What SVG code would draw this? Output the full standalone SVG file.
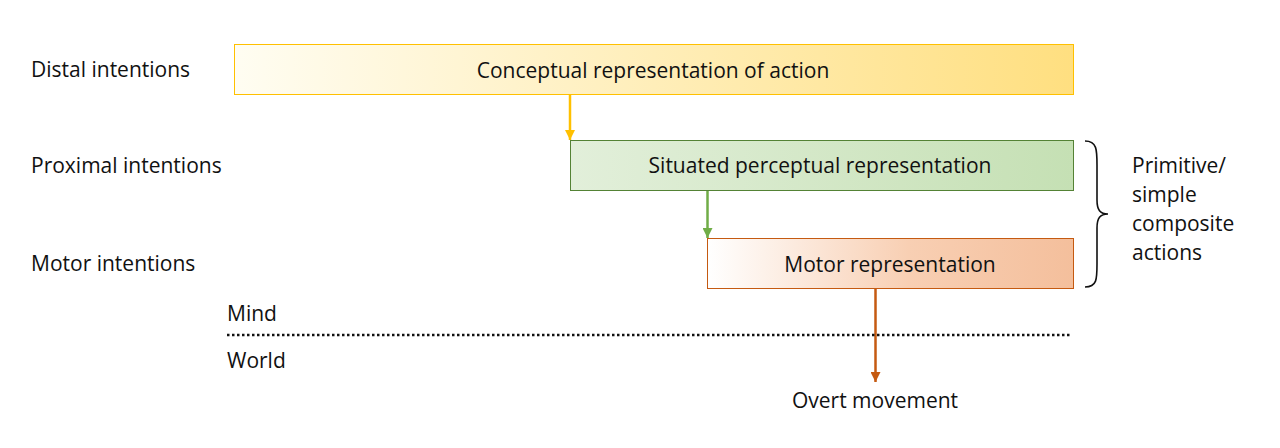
<svg xmlns="http://www.w3.org/2000/svg" width="1280" height="448" viewBox="0 0 1280 448">
<style>
text{font-family:"Open Sans","Liberation Sans",sans-serif;font-size:21px;fill:#111}
.c{text-anchor:middle}
</style>
<defs>
<linearGradient id="gY" x1="0" x2="1" y1="0" y2="0"><stop offset="0" stop-color="#FFFDF2"/><stop offset="1" stop-color="#FFDF80"/></linearGradient>
<linearGradient id="gG" x1="0" x2="1" y1="0" y2="0"><stop offset="0" stop-color="#E2EFDA"/><stop offset="1" stop-color="#C5E0B4"/></linearGradient>
<linearGradient id="gO" x1="0" x2="1" y1="0" y2="0"><stop offset="0" stop-color="#FFFFFF"/><stop offset="0.55" stop-color="#F8CFB3"/><stop offset="1" stop-color="#F4BF9C"/></linearGradient>
<marker id="aY" viewBox="0 0 10 10" refX="10" refY="5" markerWidth="4" markerHeight="4" orient="auto" markerUnits="strokeWidth"><path d="M0,0L10,5L0,10z" fill="#FFC000"/></marker>
<marker id="aG" viewBox="0 0 10 10" refX="10" refY="5" markerWidth="4" markerHeight="4" orient="auto" markerUnits="strokeWidth"><path d="M0,0L10,5L0,10z" fill="#70AD47"/></marker>
<marker id="aO" viewBox="0 0 10 10" refX="10" refY="5" markerWidth="4" markerHeight="4" orient="auto" markerUnits="strokeWidth"><path d="M0,0L10,5L0,10z" fill="#C55A11"/></marker>
</defs>
<g id="labels">
<text x="31" y="77">Distal intentions</text>
<text x="31" y="173">Proximal intentions</text>
<text x="31" y="271">Motor intentions</text>
<text x="227" y="321">Mind</text>
<text x="227" y="368">World</text>
</g>
<g id="conceptual">
<rect x="234.5" y="44.5" width="839" height="50" fill="url(#gY)" stroke="#FFC000" stroke-width="1"/>
<text class="c" x="653" y="78">Conceptual representation of action</text>
</g>
<g id="perceptual">
<rect x="570.5" y="140.5" width="503" height="50" fill="url(#gG)" stroke="#548235" stroke-width="1"/>
<text class="c" x="820" y="173">Situated perceptual representation</text>
</g>
<g id="motor">
<rect x="707.5" y="238.5" width="366" height="50" fill="url(#gO)" stroke="#C55A11" stroke-width="1"/>
<text class="c" x="890" y="272">Motor representation</text>
</g>
<g id="overt">
<text class="c" x="875" y="408">Overt movement</text>
</g>
<g id="brace">
<path d="M1085,141 C1097,141 1097,150 1097,165 L1097,200 C1097,210 1100,214 1108,214 C1100,214 1097,218 1097,228 L1097,264 C1097,279 1097,287 1085,287" fill="none" stroke="#111" stroke-width="1.6"/>
<text x="1132" y="173">Primitive/</text>
<text x="1132" y="202">simple</text>
<text x="1132" y="231">composite</text>
<text x="1132" y="260">actions</text>
</g>
<g id="connectors">
<line x1="570" y1="95" x2="570" y2="140" stroke="#FFC000" stroke-width="2.5" marker-end="url(#aY)"/>
<line x1="707.5" y1="191" x2="707.5" y2="238" stroke="#70AD47" stroke-width="2.5" marker-end="url(#aG)"/>
<line x1="875.5" y1="289" x2="875.5" y2="382" stroke="#C55A11" stroke-width="2.5" marker-end="url(#aO)"/>
<line x1="227" y1="335" x2="1070" y2="335" stroke="#111" stroke-width="2.5" stroke-dasharray="2.5 2.5"/>
</g>
</svg>
